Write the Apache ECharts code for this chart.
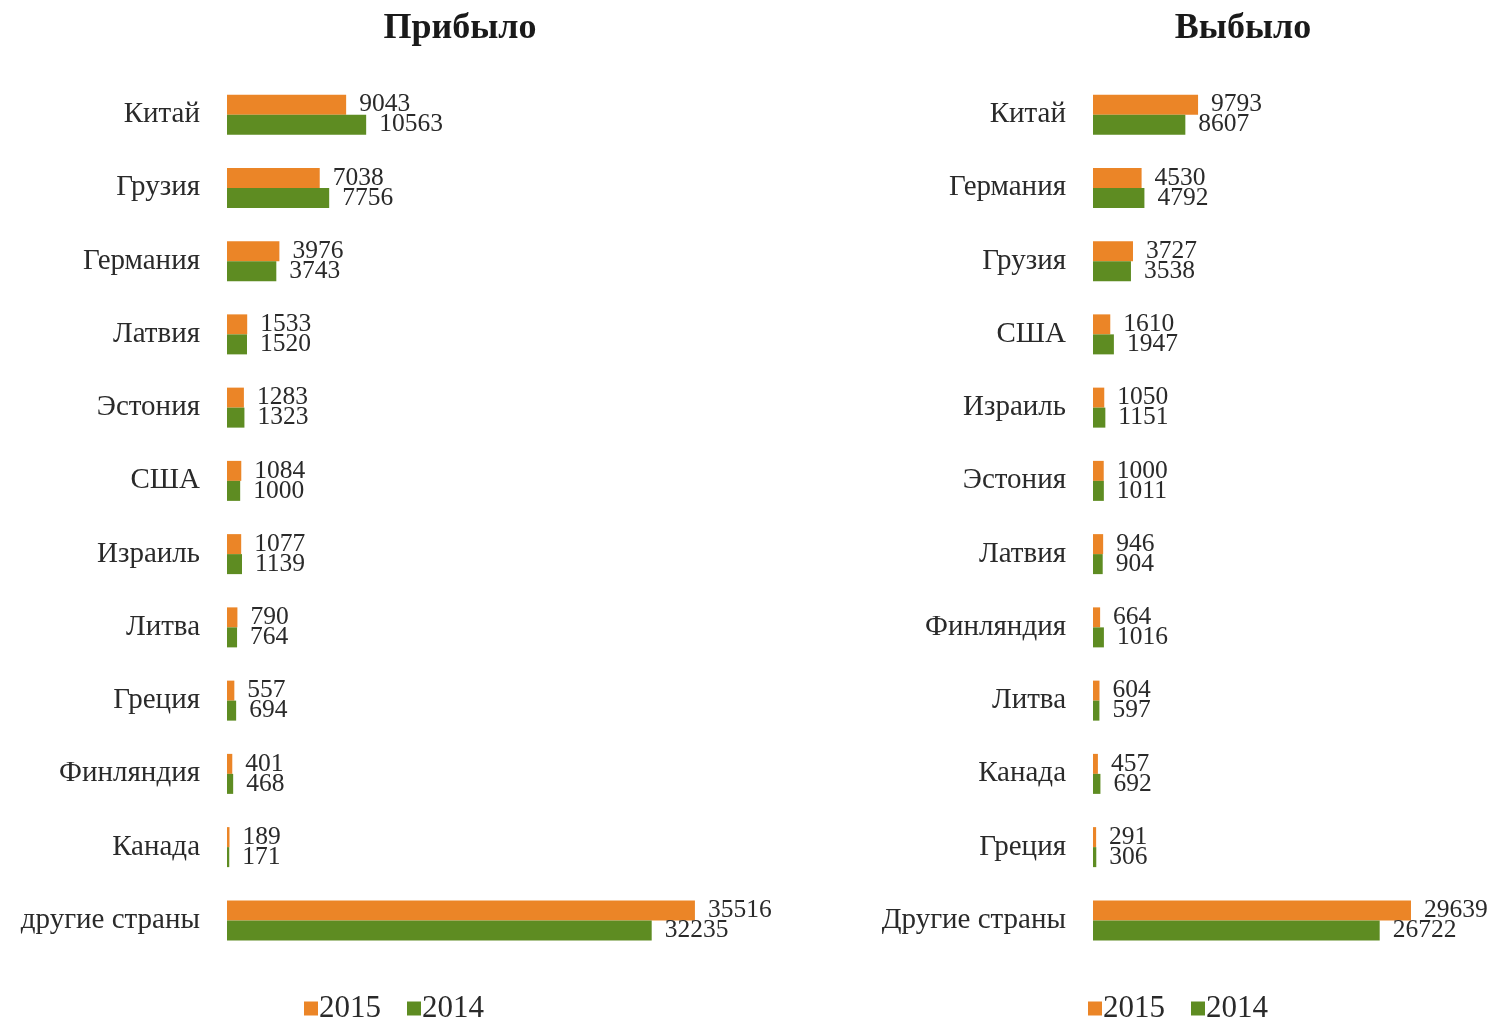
<!DOCTYPE html>
<html lang="ru">
<head>
    <meta charset="UTF-8">
    <title>Прибыло / Выбыло</title>
    <style>
        body { margin: 0; background: #fff; }
        #container { width: 1494px; height: 1022px; }
    </style>
    <script src="https://cdn.jsdelivr.net/npm/echarts@6.0.0/dist/echarts.min.js"></script>
</head>
<body>
    <div id="container"></div>
    <script>
        // данные: прибыло
        var arrivedCountries = ['Китай', 'Грузия', 'Германия', 'Латвия', 'Эстония', 'США', 'Израиль', 'Литва', 'Греция', 'Финляндия', 'Канада', 'другие страны'];
        var arrived2015 = [9043, 7038, 3976, 1533, 1283, 1084, 1077, 790, 557, 401, 189, 35516];
        var arrived2014 = [10563, 7756, 3743, 1520, 1323, 1000, 1139, 764, 694, 468, 171, 32235];

        // данные: выбыло
        var leftCountries = ['Китай', 'Германия', 'Грузия', 'США', 'Израиль', 'Эстония', 'Латвия', 'Финляндия', 'Литва', 'Канада', 'Греция', 'Другие страны'];
        var left2015 = [9793, 4530, 3727, 1610, 1050, 1000, 946, 664, 604, 457, 291, 29639];
        var left2014 = [8607, 4792, 3538, 1947, 1151, 1011, 904, 1016, 597, 692, 306, 26722];

        var years = ['2015', '2014'];
        var colors = ['#EB8527', '#5E8C22'];
        var serif = '"Liberation Serif", "DejaVu Serif", serif';

        var chart = echarts.init(document.getElementById('container'));

        function barSeries(name, data, idx, color) {
            return {
                name: name,
                type: 'bar',
                xAxisIndex: idx,
                yAxisIndex: idx,
                data: data,
                barWidth: 20,
                barGap: '0%',
                itemStyle: { color: color },
                label: {
                    show: true,
                    position: 'right',
                    distance: 13,
                    color: '#2a2a2a',
                    fontFamily: serif,
                    fontSize: 25.5,
                    lineHeight: 20
                }
            };
        }

        function catAxis(idx, cats) {
            return {
                type: 'category',
                gridIndex: idx,
                data: cats,
                inverse: true,
                axisLine: { show: false },
                axisTick: { show: false },
                axisLabel: {
                    margin: 27,
                    color: '#2a2a2a',
                    fontFamily: serif,
                    fontSize: 29
                }
            };
        }

        function valAxis(idx, max) {
            return {
                type: 'value',
                gridIndex: idx,
                min: 0,
                max: max,
                show: false,
                splitLine: { show: false }
            };
        }

        var titleStyle = { fontFamily: serif, fontSize: 36, fontWeight: 'bold', color: '#1a1a1a' };
        var legendStyle = { fontFamily: serif, fontSize: 31, color: '#2a2a2a', padding: [0, 0, 0, -4] };

        var option = {
            backgroundColor: '#fff',
            animation: false,
            title: [
                { text: 'Прибыло', left: 455, top: 6, textAlign: 'center', textStyle: titleStyle },
                { text: 'Выбыло', left: 1238, top: 6, textAlign: 'center', textStyle: titleStyle }
            ],
            legend: [
                { data: years, left: 299, top: 988, itemWidth: 14, itemHeight: 14, itemGap: 26,
                  icon: 'rect', textStyle: legendStyle },
                { data: years, left: 1083, top: 988, itemWidth: 14, itemHeight: 14, itemGap: 26,
                  icon: 'rect', textStyle: legendStyle }
            ],
            grid: [
                { left: 227, top: 78, width: 527, height: 879 },
                { left: 1093, top: 78, width: 375.5, height: 879 }
            ],
            xAxis: [valAxis(0, 40000), valAxis(1, 35000)],
            yAxis: [catAxis(0, arrivedCountries), catAxis(1, leftCountries)],
            series: [
                barSeries(years[0], arrived2015, 0, colors[0]),
                barSeries(years[1], arrived2014, 0, colors[1]),
                barSeries(years[0], left2015, 1, colors[0]),
                barSeries(years[1], left2014, 1, colors[1])
            ]
        };

        chart.setOption(option);
    </script>
</body>
</html>
